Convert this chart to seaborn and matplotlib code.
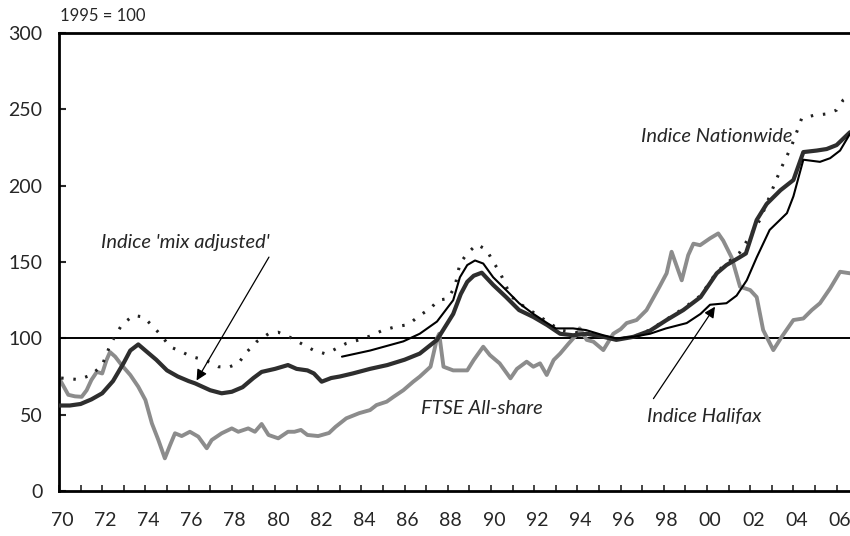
import matplotlib
matplotlib.use('Agg')
import pandas as pd
import matplotlib.pyplot as plt
import matplotlib.transforms as mtransforms
import seaborn as sns

# UK house price indices vs FTSE All-share, 1995 = 100
mix_years = [1970.0, 1970.5, 1971.0, 1971.5, 1972.0, 1972.5, 1973.0, 1973.3, 1973.67, 1974.0,
             1974.5, 1975.0, 1975.5, 1976.0, 1976.3, 1977.0, 1977.53, 1978.0, 1978.5, 1979.0,
             1979.38, 1980.0, 1980.6, 1981.0, 1981.5, 1981.8, 1982.16, 1982.6, 1983.0, 1983.6,
             1984.4, 1985.2, 1986.0, 1986.7, 1987.5, 1988.25, 1988.6, 1988.9, 1989.2, 1989.57,
             1990.1, 1990.7, 1991.3, 1991.96, 1992.6, 1993.2, 1993.8, 1994.43, 1995.2, 1995.8,
             1996.6, 1997.36, 1998.13, 1998.9, 1999.7, 2000.45, 2000.9, 2001.5, 2001.8, 2002.3,
             2002.76, 2003.4, 2004.0, 2004.46, 2005.08, 2005.54, 2006.0, 2006.62]
mix_values = [56, 56, 57, 60, 64, 72, 84, 92, 96, 92,
              86, 79, 75, 72, 70.5, 66, 64, 65, 68, 74,
              78, 80, 82.5, 80, 79, 77, 71.6, 74, 75, 77,
              80, 82.5, 86, 90, 99, 116, 129, 137, 141, 143,
              135, 127, 118.5, 114, 108.7, 103, 102, 103, 101, 99,
              101, 105, 112, 118.5, 127, 142.6, 148, 153, 155.6, 177.5,
              188, 197, 203.7, 222, 223, 224, 226.6, 235]

halifax_years = [1983.1, 1984.4, 1985.94, 1986.7, 1987.5, 1988.25, 1988.56, 1988.9, 1989.26, 1989.64,
                 1990.1, 1990.7, 1991.3, 1991.96, 1992.6, 1993.0, 1993.8, 1994.4, 1995.2, 1995.8,
                 1996.6, 1997.36, 1998.1, 1999.06, 1999.7, 2000.14, 2000.9, 2001.37, 2001.84, 2002.3,
                 2002.9, 2003.7, 2004.0, 2004.46, 2005.23, 2005.7, 2006.16, 2006.62]
halifax_values = [88, 92, 98, 103, 111, 125, 140, 148, 151, 149,
                  140, 131.6, 123, 116, 110, 106.5, 106.5, 105.4, 102, 100,
                  101, 103, 106.5, 110, 116, 122, 123, 128, 138, 153,
                  171, 182, 193, 217, 215.6, 218, 223, 234]

nation_years = [1970.1, 1970.9, 1971.5, 1972.0, 1972.4, 1972.9, 1973.44, 1973.9, 1974.37, 1974.75,
                1975.14, 1975.7, 1976.14, 1976.76, 1977.38, 1977.84, 1978.3, 1978.69, 1979.15, 1979.7,
                1980.15, 1980.7, 1981.2, 1981.77, 1982.3, 1982.7, 1983.3, 1983.9, 1984.5, 1985.0,
                1985.6, 1986.17, 1986.7, 1987.2, 1987.56, 1988.0, 1988.33, 1988.56, 1988.9, 1989.34,
                1989.8, 1990.1, 1990.4, 1990.9, 1991.3, 1991.96, 1992.6, 1993.2, 1993.8, 1994.43,
                1995.2, 1995.8, 1996.6, 1997.36, 1998.13, 1998.9, 1999.7, 2000.45, 2000.9, 2001.5,
                2001.9, 2002.45, 2002.9, 2003.2, 2003.5, 2003.9, 2004.15, 2004.38, 2004.92, 2005.54,
                2006.0, 2006.3, 2006.62]
nation_values = [74, 73, 76, 82.5, 96.7, 108.7, 115, 114, 107.6, 101.5,
                 94.5, 91, 88, 85.8, 81.4, 81, 83.6, 91, 97.8, 103,
                 104, 100.6, 96.7, 92.3, 90, 92.3, 96.7, 99, 102, 105.4,
                 107.6, 109, 115, 119.6, 125, 126, 133.8, 149, 155.6, 161.5,
                 158, 150, 143.6, 128, 123, 117, 111, 105.4, 104, 103,
                 101, 99.3, 101, 105.5, 112.5, 119.5, 128, 143.5, 149, 156,
                 165, 177.5, 193, 203.7, 213.5, 225.5, 235, 244, 246, 247,
                 249.5, 256, 259]

ftse_years = [1970.05, 1970.43, 1970.74, 1971.05, 1971.28, 1971.5, 1971.75, 1972.0, 1972.2, 1972.36,
              1972.6, 1972.9, 1973.3, 1973.67, 1974.0, 1974.3, 1974.6, 1974.9, 1975.14, 1975.37,
              1975.68, 1976.06, 1976.45, 1976.84, 1977.07, 1977.53, 1978.0, 1978.3, 1978.76, 1979.07,
              1979.38, 1979.7, 1980.15, 1980.6, 1980.9, 1981.2, 1981.5, 1982.0, 1982.5, 1982.8,
              1983.3, 1983.9, 1984.4, 1984.7, 1985.17, 1985.5, 1985.94, 1986.4, 1986.7, 1987.2,
              1987.5, 1987.6, 1987.8, 1988.25, 1988.9, 1989.2, 1989.64, 1989.95, 1990.4, 1990.9,
              1991.2, 1991.65, 1991.96, 1992.27, 1992.58, 1992.9, 1993.2, 1993.6, 1994.0, 1994.1,
              1994.43, 1994.74, 1995.2, 1995.66, 1996.0, 1996.28, 1996.74, 1997.2, 1997.8, 1998.13,
              1998.36, 1998.83, 1999.13, 1999.37, 1999.68, 2000.14, 2000.52, 2000.75, 2001.14, 2001.53,
              2002.0, 2002.3, 2002.6, 2003.07, 2003.46, 2004.0, 2004.46, 2004.85, 2005.23, 2005.7,
              2006.16, 2006.62]
ftse_values = [72.7, 63, 62, 61.7, 66, 72.7, 78, 77, 85.8, 91,
               88, 82.5, 76, 68.3, 59.6, 44.3, 33.4, 21.4, 30, 37.8,
               36, 38.8, 35.6, 28, 33.4, 37.8, 41, 38.8, 41, 38.8,
               43.9, 36.7, 34.5, 38.8, 38.8, 40, 36.7, 36, 38, 42,
               47.6, 51, 53, 56.3, 58.5, 61.8, 66, 71.6, 74.9, 81.4,
               100, 103, 81.4, 79, 79, 85.8, 94.5, 89, 83.6, 73.8,
               80, 84.7, 81.4, 83.6, 76, 85.8, 90, 96.7, 103, 106.5,
               99, 97.8, 92.3, 103, 106, 110, 112, 118.5, 133.8, 142.6,
               156.7, 138, 154.5, 162, 161, 165.5, 168.7, 164, 153, 133.8,
               131.6, 127, 105.4, 92.3, 101, 112, 113, 118.5, 123, 132.7,
               143.6, 142.6]

tick_years = list(range(1970, 2007))
tick_labels = [str(y)[2:] if y % 2 == 0 else '' for y in tick_years]

sns.set_style('ticks')
plt.rcParams['font.family'] = ['Lato', 'DejaVu Sans']

fig = plt.figure(figsize=(8.5, 5.36), dpi=100)
ax = fig.add_axes([59 / 850, 45 / 536, 791 / 850, 458 / 536])

ax.axhline(100, color='black', lw=1.4, zorder=1)

sns.lineplot(x=ftse_years, y=ftse_values, ax=ax, color='#8c8c8c', lw=2.8, zorder=2)
sns.lineplot(x=nation_years, y=nation_values, ax=ax, color='#222222', lw=2.2,
             linestyle=(0, (0.8, 3.2)), zorder=3)
sns.lineplot(x=mix_years, y=mix_values, ax=ax, color='#2e2e2e', lw=3.0, zorder=4)
sns.lineplot(x=halifax_years, y=halifax_values, ax=ax, color='black', lw=1.5, zorder=5)

ax.set_xlim(1970, 2006.62)
ax.set_ylim(0, 300)
ax.set_yticks(range(0, 301, 50))
ax.set_xticks(tick_years)
ax.set_xticklabels(tick_labels)
ax.tick_params(axis='x', direction='in', length=4, width=1.2, pad=15, labelsize=14)
ax.tick_params(axis='y', direction='in', length=5, width=1.5, pad=12, labelsize=14)
ax.set_xlabel('')
ax.set_ylabel('')

# year labels sit a touch right of their tick
shift = mtransforms.ScaledTranslation(3 / 100, 0, fig.dpi_scale_trans)
for lbl in ax.get_xticklabels():
    lbl.set_transform(lbl.get_transform() + shift)

for side in ['left', 'bottom', 'top']:
    ax.spines[side].set_linewidth(2)
    ax.spines[side].set_color('black')
ax.spines['right'].set_visible(False)

fig.text(60 / 850, 1 - 16 / 536, '1995 = 100', fontsize=12, ha='left', va='center')

lab = dict(fontsize=14.5, style='italic', ha='center', va='center')
ax.text(1975.83, 163, "Indice 'mix adjusted'", **lab)
ax.text(2000.46, 232, 'Indice Nationwide', **lab)
ax.text(1989.58, 54, 'FTSE All-share', **lab)
ax.text(1999.86, 49, 'Indice Halifax', **lab)

arrow = dict(arrowstyle='-|>', color='black', lw=0.9, mutation_scale=16, shrinkA=0, shrinkB=0)
ax.annotate('', xy=(1976.37, 72.4), xytext=(1979.72, 153.2), arrowprops=arrow)
ax.annotate('', xy=(2000.37, 120.7), xytext=(1997.52, 60.5), arrowprops=arrow)

fig.savefig('out.png', dpi=100)
